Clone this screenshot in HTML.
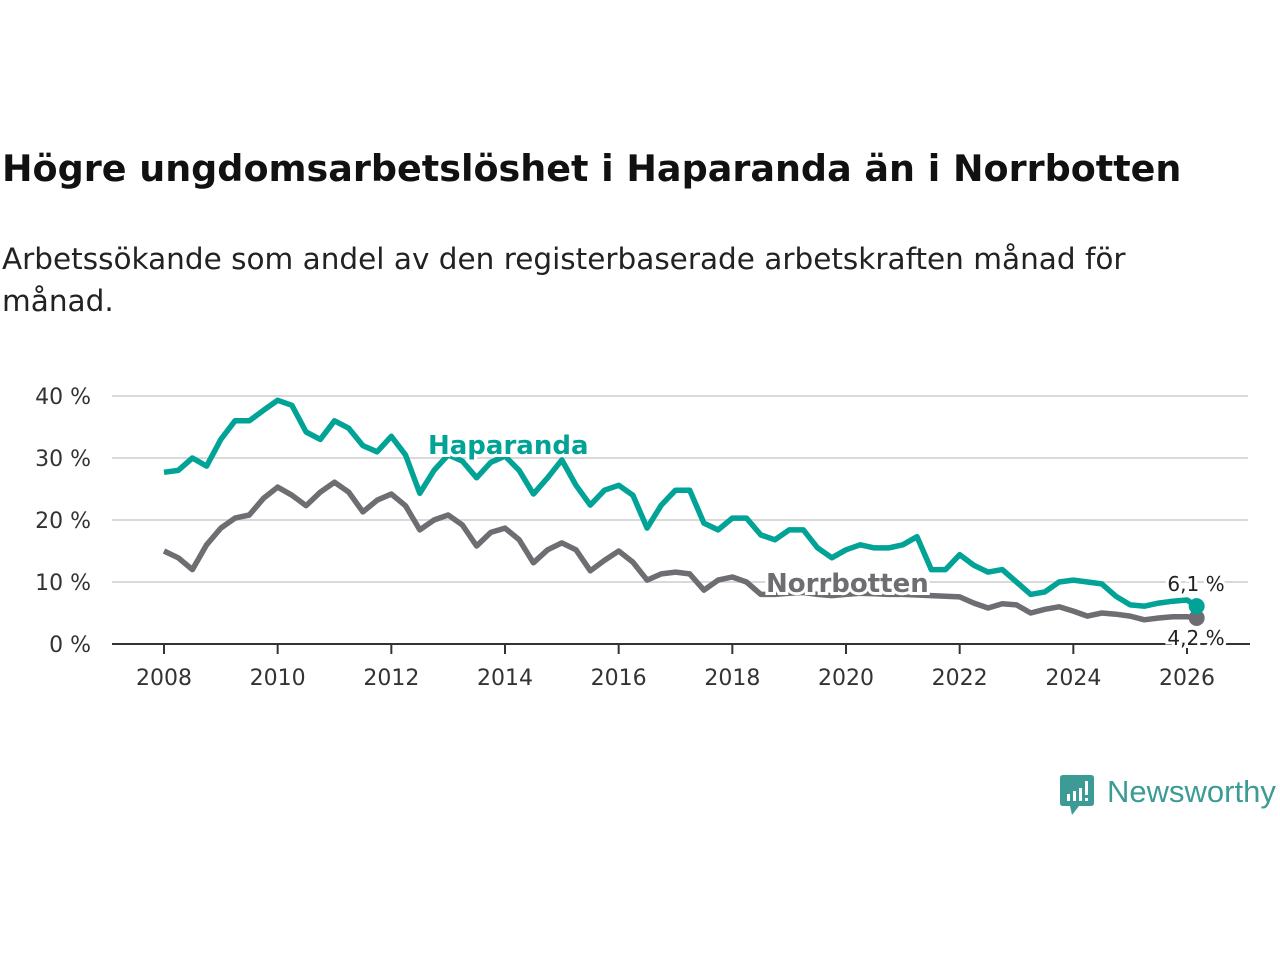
<!DOCTYPE html>
<html><head><meta charset="utf-8">
<style>
body{margin:0;width:1280px;height:960px;background:#fff;font-family:"DejaVu Sans","Liberation Sans",sans-serif;overflow:hidden;position:relative}
#title{position:absolute;left:2px;top:147px;font-size:36.5px;font-weight:bold;color:#111;white-space:nowrap}
#sub{position:absolute;left:2px;top:238px;font-size:29.5px;color:#222;line-height:42px;width:1175px}
svg{position:absolute;left:0;top:0}
</style></head><body>
<div id="title">Högre ungdomsarbetslöshet i Haparanda än i Norrbotten</div>
<div id="sub">Arbetssökande som andel av den registerbaserade arbetskraften månad för månad.</div>
<svg width="1280" height="960">
<g id="grid"></g>
<g id="yl"></g>
<g id="xl"></g>
<g id="lines"></g>
<g id="labels"></g>
<g transform="translate(1060,775)">
<path d="M0 3 Q0 0 3 0 H31 Q34 0 34 3 V28 Q34 31 31 31 H19 L12 40 L10 31 H3 Q0 31 0 28Z" fill="#3c9b94"/>
<rect x="7" y="19" width="3" height="7" fill="#fff"/><rect x="13" y="16" width="3" height="10" fill="#fff"/><rect x="19" y="13" width="3" height="13" fill="#fff"/><rect x="25" y="6" width="3" height="14" fill="#fff"/><rect x="25" y="23" width="3" height="3" fill="#fff"/>
<text x="47" y="27" font-family="Liberation Sans, sans-serif" font-size="31" fill="#3c9b94">Newsworthy</text>
</g>
</svg>
<script>
const yearsH=[2008,2008.25,2008.5,2008.75,2009,2009.25,2009.5,2009.75,2010,2010.25,2010.5,2010.75,2011,2011.25,2011.5,2011.75,2012,2012.25,2012.5,2012.75,2013,2013.25,2013.5,2013.75,2014,2014.25,2014.5,2014.75,2015,2015.25,2015.5,2015.75,2016,2016.25,2016.5,2016.75,2017,2017.25,2017.5,2017.75,2018,2018.25,2018.5,2018.75,2019,2019.25,2019.5,2019.75,2020,2020.25,2020.5,2020.75,2021,2021.25,2021.5,2021.75,2022,2022.25,2022.5,2022.75,2023,2023.25,2023.5,2023.75,2024,2024.25,2024.5,2024.75,2025,2025.25,2025.5,2025.75,2026,2026.17];
const haparanda=[27.7,28,30,28.7,33,36,36,37.7,39.3,38.5,34.2,33,36,34.8,32,31,33.5,30.5,24.3,28,30.5,29.5,26.8,29.3,30.3,28,24.2,26.8,29.7,25.6,22.4,24.8,25.6,24,18.7,22.4,24.8,24.8,19.5,18.4,20.3,20.3,17.6,16.8,18.4,18.4,15.5,13.9,15.2,16,15.5,15.5,16,17.3,12,12,14.4,12.7,11.6,12,10,8,8.4,10,10.3,10,9.7,7.7,6.3,6.1,6.6,6.9,7.1,6.1];
const norrbotten=[15,13.9,12,16,18.7,20.3,20.8,23.5,25.3,24,22.3,24.5,26.1,24.5,21.3,23.2,24.2,22.3,18.4,20,20.8,19.2,15.8,18,18.7,16.8,13.1,15.2,16.3,15.2,11.8,13.5,15,13.2,10.3,11.3,11.6,11.3,8.7,10.3,10.8,10,8,8,8.2,8.3,8,7.8,8,8.2,8.1,8,8,7.9,7.8,7.7,7.6,6.6,5.8,6.5,6.3,5,5.6,6,5.3,4.5,5,4.8,4.5,3.9,4.2,4.4,4.4,4.2];
const yTicks=[0,10,20,30,40];
const xTicks=[2008,2010,2012,2014,2016,2018,2020,2022,2024,2026];
const NS="http://www.w3.org/2000/svg";
const X=v=>164+(v-2008)*(1187-164)/18;
const Y=v=>644-v*6.2;
function mk(t,a,p){const e=document.createElementNS(NS,t);for(const k in a)e.setAttribute(k,a[k]);p.appendChild(e);return e;}
const grid=document.getElementById('grid'),yl=document.getElementById('yl'),xl=document.getElementById('xl'),lines=document.getElementById('lines'),labels=document.getElementById('labels');
yTicks.forEach(v=>{
 if(v>0){const g=mk('line',{x1:112,x2:1248,y1:Y(v),y2:Y(v),stroke:'#d9d9d9','stroke-width':2},grid);
 
 }
 const t=mk('text',{x:91,y:Y(v)+8,'text-anchor':'end','font-size':22,fill:'#333'},yl);
 t.textContent=v+' %';
 
 
});
const ax=mk('line',{x1:112,x2:1250,y1:644,y2:644,stroke:'#333','stroke-width':2},xl);


xTicks.forEach(v=>{
 mk('line',{x1:X(v),x2:X(v),y1:644,y2:654,stroke:'#333','stroke-width':2},xl);
 const t=mk('text',{x:X(v),y:685,'text-anchor':'middle','font-size':22,fill:'#333'},xl);
 t.textContent=v;
 
 
});
function line(vals,col,name){
 const d=vals.map((v,i)=>(i?'L':'M')+X(yearsH[i]).toFixed(1)+' '+Y(v).toFixed(1)).join(' ');
 const p=mk('path',{d:d,fill:'none',stroke:col,'stroke-width':5.5,'stroke-linejoin':'round'},lines);
 
 
 const n=vals.length-1;
 const c=mk('circle',{cx:X(yearsH[n]),cy:Y(vals[n]),r:8,fill:col},lines);
 
 
}
const teal='#00a396',gray='#6e6d72';
line(norrbotten,gray,'norrbotten-line');
line(haparanda,teal,'haparanda-line');
function lab(x,y,txt,col,size,bold,name,anchor){
 const t=mk('text',{x:x,y:y,'font-size':size,'font-weight':bold?'bold':'normal',fill:col,stroke:'#fff','stroke-width':6,'paint-order':'stroke','text-anchor':anchor||'start'},labels);
 t.textContent=txt;
 
 
}
lab(428,454,'Haparanda',teal,26,true,'haparanda-label');
lab(766,592,'Norrbotten',gray,26,true,'norrbotten-label');
const nH=haparanda.length-1,nN=norrbotten.length-1;
lab(1196,591,haparanda[nH].toFixed(1).replace('.',',')+' %','#222',20,false,'haparanda-value-label','middle');
lab(1196,645,norrbotten[nN].toFixed(1).replace('.',',')+' %','#222',20,false,'norrbotten-value-label','middle');
</script>
</body></html>
